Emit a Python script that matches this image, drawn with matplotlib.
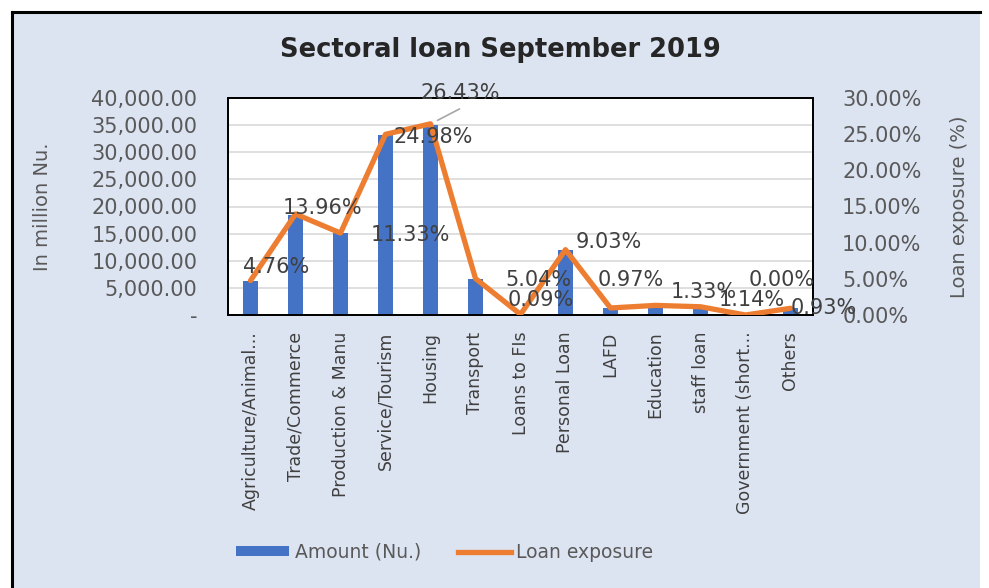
import matplotlib.pyplot as plt
from matplotlib.lines import Line2D
from matplotlib.patches import Patch, Rectangle
from matplotlib.ticker import FuncFormatter

# -----------------------------------
# Data
# -----------------------------------

categories = ["Agriculture/Animal...", "Trade/Commerce", "Production & Manu",
              "Service/Tourism", "Housing", "Transport", "Loans to FIs",
              "Personal Loan", "LAFD", "Education", "staff loan",
              "Government (short...", "Others"]

amount = [6300, 18500, 15100, 33200, 35100, 6700, 120,
          12000, 1300, 1770, 1520, 0, 1240]

exposure = [4.76, 13.96, 11.33, 24.98, 26.43, 5.04, 0.09,
            9.03, 0.97, 1.33, 1.14, 0.00, 0.93]

# label offsets in pixels (Excel put them a bit all over the place)
label_dx = [26, 27, 70, 48, 30, 63, 20, 43, 20, 48, 51, 36, 33]
label_dy = [14, 6, -2, -3, 31, -1, 14, 8, 28, 13, 7, 35, 0]

BLUE = "#4472C4"
ORANGE = "#ED7D31"
GREY = "#595959"
DARK = "#404040"
BG = "#DCE3F1"

# -----------------------------------
# Figure
# -----------------------------------

fig = plt.figure(figsize=(9.89, 5.88), dpi=100)
fig.patch.set_facecolor("white")

# chart area background + frame
fig.patches.append(Rectangle((12 / 989, 0), 968 / 989, 1 - 12 / 588,
                             transform=fig.transFigure, facecolor=BG,
                             edgecolor="none", zorder=-10))
fig.add_artist(Line2D([12 / 989, 12 / 989], [0, 1 - 12 / 588], color="black", lw=2.2))
fig.add_artist(Line2D([12 / 989, 980 / 989], [1 - 12 / 588, 1 - 12 / 588], color="black", lw=2.2))

ax = fig.add_axes([228 / 989, 1 - 315 / 588, 585 / 989, 217 / 588])
ax.set_facecolor("white")
ax2 = ax.twinx()

x = list(range(len(categories)))

ax.bar(x, amount, width=0.34, color=BLUE, zorder=2)
ax.set_ylim(0, 40000)
ax.set_xlim(-0.5, len(categories) - 0.5)
ax.set_yticks(range(0, 40001, 5000))
ax.yaxis.set_major_formatter(FuncFormatter(lambda v, p: "-" if v == 0 else f"{v:,.2f}"))
ax.grid(axis="y", color="#D9D9D9", lw=1.2, zorder=0)
ax.set_axisbelow(True)

ax.set_xticks(x)
ax.set_xticklabels(categories, rotation=90, fontsize=12.5, color=DARK)
ax.tick_params(axis="x", length=0, pad=12)
ax.tick_params(axis="y", length=0, pad=22, labelsize=15, labelcolor=GREY)
ax.set_ylabel("In million Nu.", fontsize=14, color=GREY)
ax.yaxis.set_label_coords(-0.30, 0.5)

ax2.plot(x, exposure, color=ORANGE, lw=3.8, solid_capstyle="round", zorder=3)
ax2.set_ylim(0, 30)
ax2.set_yticks(range(0, 31, 5))
ax2.yaxis.set_major_formatter(FuncFormatter(lambda v, p: f"{v:.2f}%"))
ax2.tick_params(axis="y", length=0, pad=21, labelsize=15, labelcolor=GREY)
ax2.set_ylabel("Loan exposure (%)", fontsize=14, color=GREY)
ax2.yaxis.set_label_coords(1.235, 0.5)

for a in (ax, ax2):
    for s in a.spines.values():
        s.set_color("black")
        s.set_linewidth(1.3)

# data labels
for i, v in enumerate(exposure):
    ax2.annotate(f"{v:.2f}%", (i, v), xytext=(label_dx[i], label_dy[i]),
                 textcoords="offset pixels", ha="center", va="center",
                 fontsize=15, color=DARK, zorder=5, annotation_clip=False)

# leader line for the housing label
ax2.annotate("", (4.1, exposure[4] + 0.3), xytext=(27, 14),
             textcoords="offset pixels",
             arrowprops=dict(arrowstyle="-", color="#A6A6A6", lw=1.2))

fig.text(500 / 989, 1 - 50 / 588, "Sectoral loan September 2019",
         ha="center", va="center", fontsize=18.5, fontweight="bold", color="#262626")

handles = [Patch(facecolor=BLUE, edgecolor="none"),
           Line2D([], [], color=ORANGE, lw=3.8)]
fig.legend(handles, ["Amount (Nu.)", "Loan exposure"], loc="center",
           bbox_to_anchor=(445 / 989, 1 - 552 / 588), ncol=2, frameon=False,
           fontsize=13.5, labelcolor=GREY, handlelength=2.8, handleheight=0.5,
           handletextpad=0.3, columnspacing=2.0)

fig.savefig("out.png", dpi=100, facecolor=fig.get_facecolor())
